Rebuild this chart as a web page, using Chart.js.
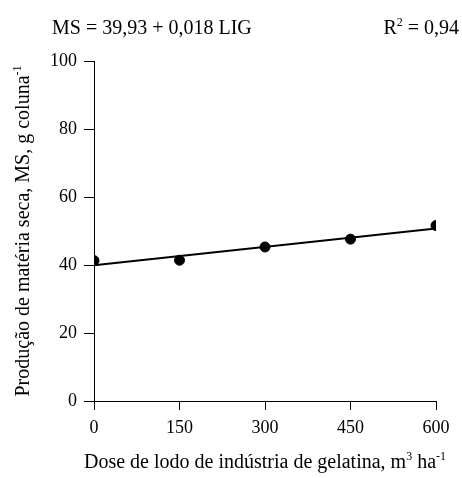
<!DOCTYPE html>
<html>
<head>
<meta charset="utf-8">
<script src="https://cdn.jsdelivr.net/npm/chart.js@4/dist/chart.umd.min.js"></script>
<style>
  html, body { margin: 0; padding: 0; background: #fff; }
  #wrap { width: 462px; height: 478px; }
</style>
</head>
<body>
<div id="wrap"><canvas id="msChart" width="462" height="478"></canvas></div>
<script>
// doses of gelatin-industry sludge (m3/ha) and dry matter (g/coluna)
const doses = [0, 150, 300, 450, 600];
const msValues = [41.3, 41.4, 45.3, 47.6, 51.6];
const xTicks = [0, 150, 300, 450, 600];
const yTicks = [0, 20, 40, 60, 80, 100];

// fitted model MS = a + b * LIG
const intercept = 39.93;
const slope = 0.018;

const FONT = '"Liberation Serif", "Times New Roman", serif';
const titleSize = 20;
const tickSize = 18;

// text with a raised superscript part
function drawSup(ctx, parts, x, y, align) {
  const supSize = Math.round(titleSize * 0.6);
  let total = 0;
  parts.forEach(p => {
    ctx.font = (p.sup ? supSize : titleSize) + 'px ' + FONT;
    total += ctx.measureText(p.t).width;
  });
  let cx = align === 'center' ? x - total / 2 : align === 'right' ? x - total : x;
  parts.forEach(p => {
    ctx.font = (p.sup ? supSize : titleSize) + 'px ' + FONT;
    ctx.fillText(p.t, cx, p.sup ? y - titleSize * 0.42 : y);
    cx += ctx.measureText(p.t).width;
  });
}

const labelsPlugin = {
  id: 'labels',
  afterDraw(chart) {
    const ctx = chart.ctx;
    const area = chart.chartArea;
    ctx.save();
    ctx.fillStyle = '#000';
    ctx.textBaseline = 'alphabetic';
    ctx.textAlign = 'left';
    drawSup(ctx, [{ t: 'MS = 39,93 + 0,018 LIG' }], 52, 34, 'left');
    drawSup(ctx, [{ t: 'R' }, { t: '2', sup: true }, { t: ' = 0,94' }], 459, 34, 'right');
    drawSup(ctx, [
      { t: 'Dose de lodo de indústria de gelatina, m' }, { t: '3', sup: true },
      { t: ' ha' }, { t: '-1', sup: true }
    ], (area.left + area.right) / 2, 468, 'center');
    ctx.translate(29, (area.top + area.bottom) / 2);
    ctx.rotate(-Math.PI / 2);
    drawSup(ctx, [
      { t: 'Produção de matéria seca, MS, g coluna' }, { t: '-1', sup: true }
    ], 0, 0, 'center');
    ctx.restore();
  }
};

const axisStyle = {
  border: { display: true, color: '#000', width: 1 },
  grid: { drawOnChartArea: false, drawTicks: true, color: '#000' },
  ticks: { color: '#000', font: { family: FONT, size: tickSize } }
};

new Chart(document.getElementById('msChart'), {
  type: 'scatter',
  data: {
    datasets: [
      {
        type: 'line',
        data: [0, 600].map(x => ({ x, y: intercept + slope * x })),
        borderColor: '#000',
        borderWidth: 2,
        pointRadius: 0,
        fill: false
      },
      {
        data: doses.map((d, i) => ({ x: d, y: msValues[i] })),
        backgroundColor: '#000',
        borderColor: '#000',
        pointRadius: 5,
        pointHoverRadius: 5
      }
    ]
  },
  plugins: [labelsPlugin],
  options: {
    responsive: false,
    animation: false,
    layout: { padding: { left: 0, top: 61, right: 26, bottom: 0 } },
    plugins: { legend: { display: false }, tooltip: { enabled: false } },
    scales: {
      x: {
        ...axisStyle,
        type: 'linear',
        min: 0, max: 600,
        grid: { ...axisStyle.grid, tickLength: 9 },
        afterBuildTicks: s => { s.ticks = xTicks.map(v => ({ value: v })); },
        ticks: { ...axisStyle.ticks, padding: 7, maxRotation: 0 },
        afterFit: s => { s.height = 77; }
      },
      y: {
        ...axisStyle,
        min: 0, max: 100,
        grid: { ...axisStyle.grid, tickLength: 10 },
        afterBuildTicks: s => { s.ticks = yTicks.map(v => ({ value: v })); },
        ticks: { ...axisStyle.ticks, padding: 7 },
        afterFit: s => { s.width = 94; }
      }
    }
  }
});
</script>
</body>
</html>
